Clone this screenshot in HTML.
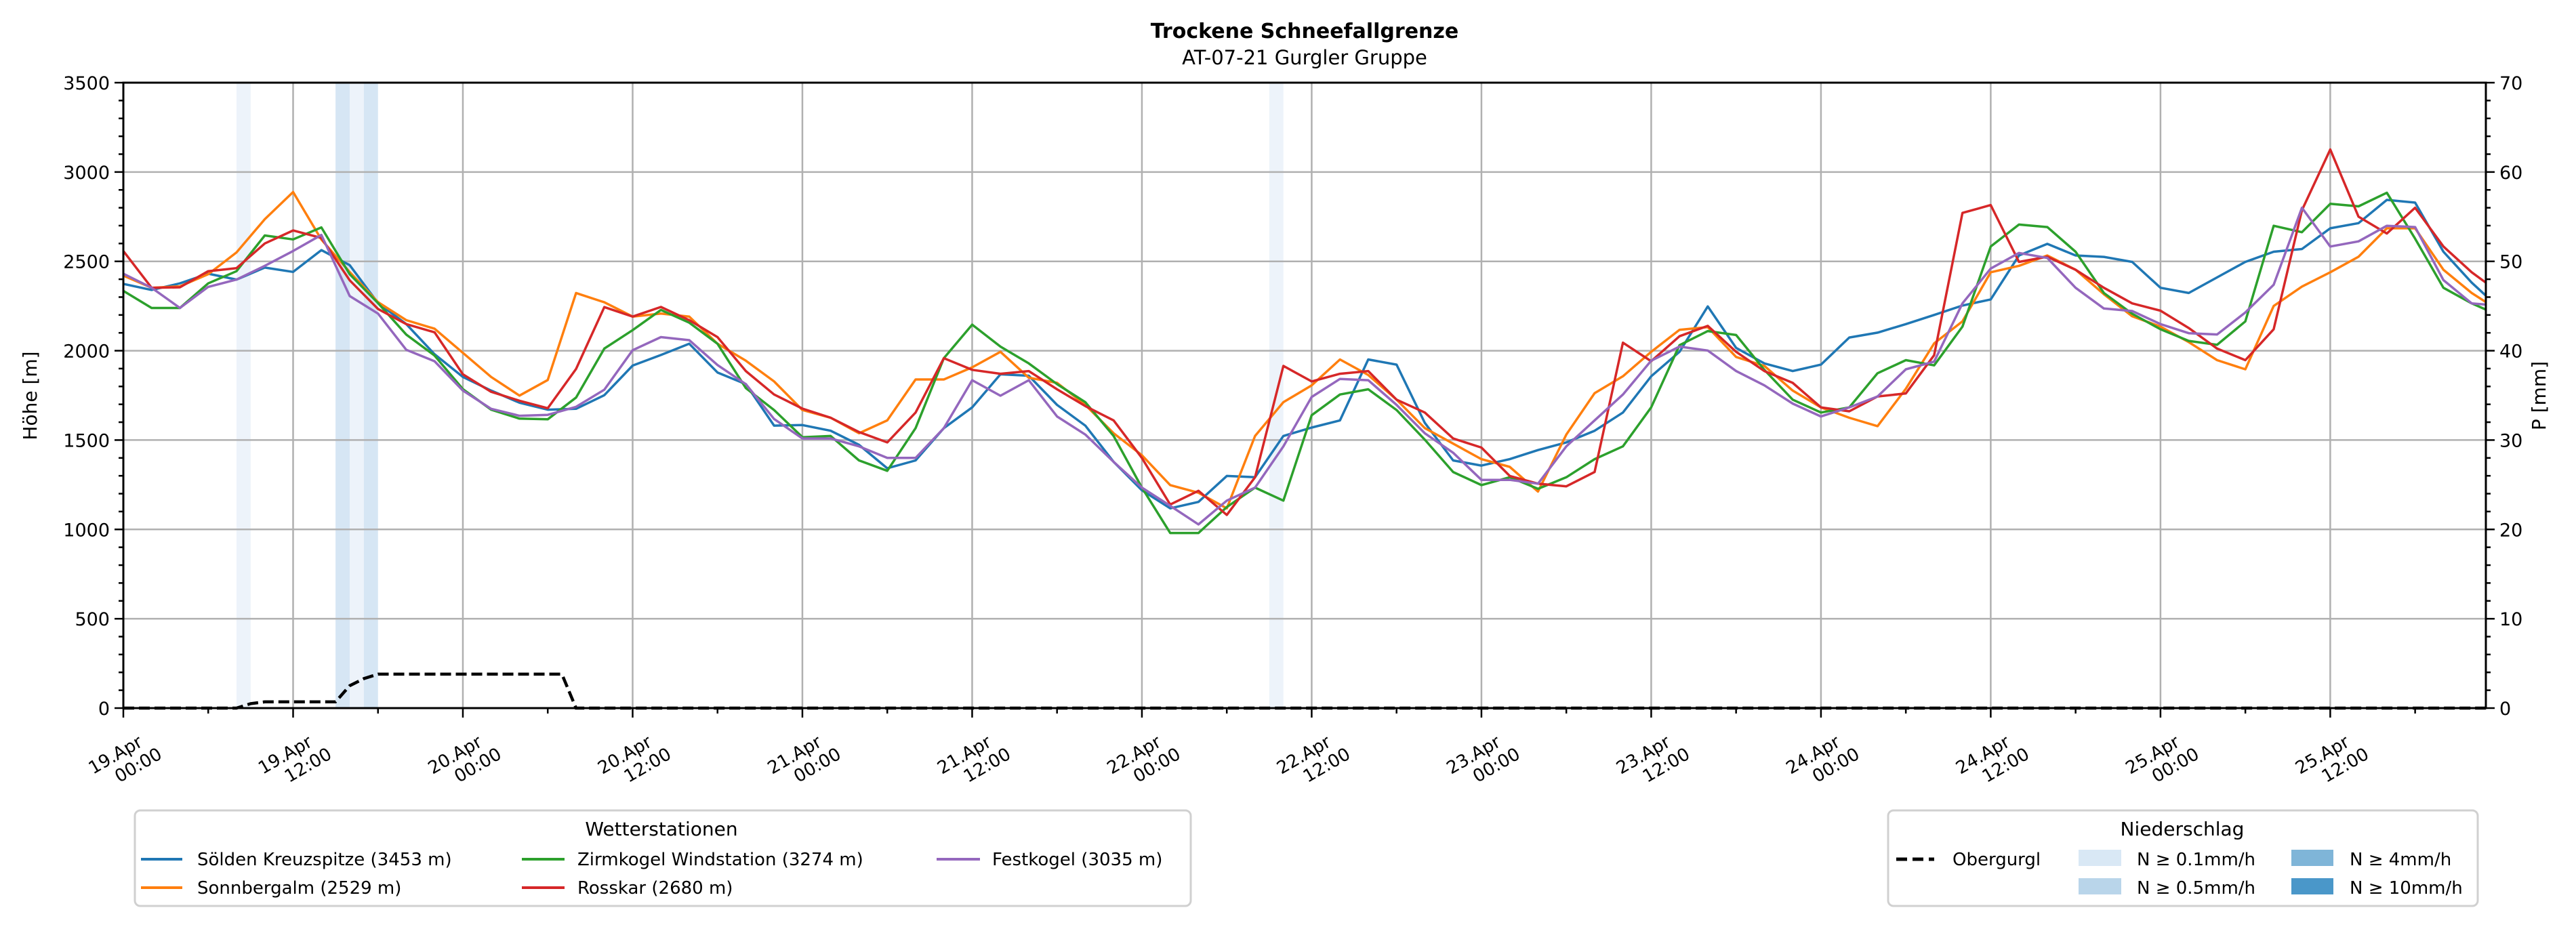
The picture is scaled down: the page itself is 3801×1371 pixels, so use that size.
<!DOCTYPE html>
<html><head><meta charset="utf-8">
<style>
html,body{margin:0;padding:0;background:#fff;}
svg{display:block;font-family:"DejaVu Sans","Liberation Sans",sans-serif;}
</style></head>
<body>
<svg id="chart" xmlns="http://www.w3.org/2000/svg" width="3801" height="1371" viewBox="0 0 3801 1371">
<rect x="0" y="0" width="3801" height="1371" fill="#fff"/>
<text x="1925" y="56" text-anchor="middle" font-size="30" font-weight="bold">Trockene Schneefallgrenze</text>
<text x="1925" y="95" text-anchor="middle" font-size="29">AT-07-21 Gurgler Gruppe</text>
<g id="bands"></g>
<g id="grid"></g>
<g id="series"></g>
<g id="axes"></g>
<text transform="translate(54,584) rotate(-90)" text-anchor="middle" font-size="28">Höhe [m]</text>
<text transform="translate(3756,584) rotate(-90)" text-anchor="middle" font-size="28">P [mm]</text>

<g>
<rect x="199" y="1196" width="1558" height="141" rx="8" fill="#fff" stroke="#d0d0d0" stroke-width="3"/>
<text x="976" y="1233" text-anchor="middle" font-size="28">Wetterstationen</text>
<g><line x1="208" y1="1268" x2="269" y2="1268" stroke="#1f77b4" stroke-width="4"/><text x="291" y="1277" font-size="26">Sölden Kreuzspitze (3453 m)</text></g>
<g><line x1="208" y1="1310" x2="269" y2="1310" stroke="#ff7f0e" stroke-width="4"/><text x="291" y="1319" font-size="26">Sonnbergalm (2529 m)</text></g>
<g><line x1="770" y1="1268" x2="833" y2="1268" stroke="#2ca02c" stroke-width="4"/><text x="852" y="1277" font-size="26">Zirmkogel Windstation (3274 m)</text></g>
<g><line x1="770" y1="1310" x2="833" y2="1310" stroke="#d62728" stroke-width="4"/><text x="852" y="1319" font-size="26">Rosskar (2680 m)</text></g>
<g><line x1="1382" y1="1268" x2="1446" y2="1268" stroke="#9467bd" stroke-width="4"/><text x="1464" y="1277" font-size="26">Festkogel (3035 m)</text></g>
</g>

<g>
<rect x="2786" y="1196" width="870" height="141" rx="8" fill="#fff" stroke="#d0d0d0" stroke-width="3"/>
<text x="3220" y="1233" text-anchor="middle" font-size="28">Niederschlag</text>
<g><line x1="2798" y1="1268" x2="2854" y2="1268" stroke="#000" stroke-width="5" stroke-dasharray="16,8"/><text x="2881" y="1277" font-size="26">Obergurgl</text></g>
<g><rect x="3067" y="1254" width="63" height="24" fill="#d9e8f5"/><text x="3153" y="1277" font-size="26">N ≥ 0.1mm/h</text></g>
<g><rect x="3067" y="1296" width="63" height="24" fill="#b9d5ea"/><text x="3153" y="1319" font-size="26">N ≥ 0.5mm/h</text></g>
<g><rect x="3381" y="1254" width="62" height="24" fill="#7fb5d8"/><text x="3467" y="1277" font-size="26">N ≥ 4mm/h</text></g>
<g><rect x="3381" y="1296" width="62" height="24" fill="#4a97c9"/><text x="3467" y="1319" font-size="26">N ≥ 10mm/h</text></g>
</g>
</svg>
<script>
// ---- data ----
const hours = [0,2,4,6,8,10,12,14,16,18,20,22,24,26,28,30,32,34,36,38,40,42,44,46,48,50,52,54,56,58,60,62,64,66,68,70,72,74,76,78,80,82,84,86,88,90,92,94,96,98,100,102,104,106,108,110,112,114,116,118,120,122,124,126,128,130,132,134,136,138,140,142,144,146,148,150,152,154,156,158,160,162,164,166,167];
const soelden = [2374,2340,2377,2431,2398,2465,2441,2563,2479,2267,2149,1980,1853,1777,1709,1670,1675,1751,1917,1976,2039,1878,
1813,1581,1584,1552,1473,1342,1386,1567,1683,1868,1860,1697,1581,1378,1219,1118,1154,1299,1292,1523,
1570,1610,1951,1922,1596,1386,1357,1393,1444,1487,1552,1654,1857,1994,2248,2016,1929,1886,1922,2074,
2101,2149,2200,2253,2287,2533,2598,2533,2525,2497,2352,2323,2410,2497,2554,2569,2685,2714,2844,2829,2554,2381,2308];
const sonnbergalm = [2420,2352,2360,2428,2550,2736,2888,2622,2440,2272,2171,2123,1988,1853,1749,1836,2323,2271,2191,2208,2191,2039,
1944,1828,1668,1625,1538,1610,1839,1839,1907,1994,1849,1820,1697,1538,1415,1248,1205,1118,1523,1712,
1806,1951,1864,1726,1567,1480,1393,1350,1212,1531,1762,1857,1994,2117,2132,1965,1915,1777,1683,1625,
1578,1787,2041,2164,2439,2475,2533,2453,2316,2193,2135,2048,1947,1896,2250,2359,2439,2526,2685,2685,2453,2323,2272];
const zirmkogel = [2335,2239,2239,2377,2445,2645,2623,2690,2428,2267,2090,1973,1785,1670,1620,1616,1738,2012,2115,2228,2157,2039,
1791,1668,1516,1523,1386,1328,1567,1958,2146,2023,1929,1813,1712,1523,1234,980,980,1125,1234,1161,
1639,1755,1784,1668,1502,1321,1248,1292,1227,1292,1393,1465,1683,2031,2110,2088,1893,1726,1654,1683,
1874,1947,1918,2135,2583,2706,2692,2554,2323,2207,2120,2055,2033,2164,2699,2663,2822,2808,2884,2627,2352,2265,2230];
const rosskar = [2558,2352,2355,2445,2462,2600,2673,2631,2394,2234,2149,2103,1868,1770,1720,1678,1898,2244,2191,2245,2171,2076,
1886,1755,1676,1625,1545,1487,1654,1958,1893,1871,1886,1784,1690,1610,1400,1139,1216,1081,1292,1915,
1828,1871,1886,1726,1654,1509,1458,1299,1256,1241,1321,2045,1941,2081,2139,1994,1886,1820,1683,1661,
1744,1761,1975,2771,2815,2497,2526,2453,2352,2265,2224,2127,2012,1947,2120,2786,3126,2750,2656,2800,2583,2439,2381];
const festkogel = [2431,2352,2239,2357,2398,2475,2558,2648,2306,2208,2005,1941,1777,1675,1636,1641,1686,1782,2003,2076,2059,1920,
1813,1618,1509,1509,1465,1400,1400,1567,1835,1748,1835,1632,1531,1378,1234,1132,1028,1161,1234,1465,
1741,1842,1835,1697,1538,1429,1277,1277,1256,1465,1610,1755,1944,2023,2001,1886,1806,1704,1632,1683,
1744,1896,1939,2265,2460,2547,2519,2352,2236,2222,2149,2098,2091,2214,2369,2800,2583,2612,2699,2692,2395,2265,2258];
const precipHours = [0,8,9,10,15,16,17,18,31,32,167];
const precipValues = [0,0,0.5,0.7,0.7,2.5,3.3,3.8,3.8,0,0];
const bandStart = [8,15,16,17,81];
const bandLevel = [0,1,0,1,0];
const xTickLabels = ["19.Apr|00:00","19.Apr|12:00","20.Apr|00:00","20.Apr|12:00","21.Apr|00:00","21.Apr|12:00","22.Apr|00:00","22.Apr|12:00","23.Apr|00:00","23.Apr|12:00","24.Apr|00:00","24.Apr|12:00","25.Apr|00:00","25.Apr|12:00"];
const yTicks = [0,500,1000,1500,2000,2500,3000,3500];
const y2Ticks = [0,10,20,30,40,50,60,70];

// ---- scales ----
const X0=182, X1=3668, Y0=1045, Y1=122, HMAX=167;
const x = h => X0 + h/HMAX*(X1-X0);
const y = v => Y0 - v/3500*(Y0-Y1);
const y2 = p => Y0 - p/70*(Y0-Y1);
const NS="http://www.w3.org/2000/svg";
function mk(tag, attrs, parent){const e=document.createElementNS(NS,tag);for(const k in attrs)e.setAttribute(k,attrs[k]);parent.appendChild(e);return e;}

const gB=document.getElementById('bands'), gG=document.getElementById('grid'), gS=document.getElementById('series'), gA=document.getElementById('axes');
const bandColors=["#edf3fa","#d6e6f4"];
bandStart.forEach((b,i)=>{
  const r=mk('rect',{x:x(b),y:Y1,width:x(b+1)-x(b),height:Y0-Y1,fill:bandColors[bandLevel[i]]},gB);
  
  
});
xTickLabels.forEach((l,i)=>{
  const gx=x(i*12);
  const ln=mk('line',{x1:gx,y1:Y1,x2:gx,y2:Y0,stroke:"#b0b0b0","stroke-width":2.5},gG);
  
  
});
yTicks.forEach(v=>{
  const ln=mk('line',{x1:X0,y1:y(v),x2:X1,y2:y(v),stroke:"#b0b0b0","stroke-width":2.5},gG);
  
  
});
const series=[["soelden",soelden,"#1f77b4"],["sonnbergalm",sonnbergalm,"#ff7f0e"],["zirmkogel",zirmkogel,"#2ca02c"],["rosskar",rosskar,"#d62728"],["festkogel",festkogel,"#9467bd"]];
series.forEach(s=>{
  const pts=hours.map((h,i)=>x(h).toFixed(1)+","+y(s[1][i]).toFixed(1)).join(" ");
  const p=mk('polyline',{points:pts,fill:"none",stroke:s[2],"stroke-width":3.5,"stroke-linejoin":"round"},gS);
  
  
});
const ppts=precipHours.map((h,i)=>x(h).toFixed(1)+","+y2(precipValues[i]).toFixed(1)).join(" ");
const pl=mk('polyline',{points:ppts,fill:"none",stroke:"#000","stroke-width":4.5,"stroke-dasharray":"16,7"},gS);



const fr=mk('rect',{x:X0,y:Y1,width:X1-X0,height:Y0-Y1,fill:"none",stroke:"#000","stroke-width":3},gA);


for(let v=0;v<=3500;v+=100){
  const major=v%500===0;
  mk('line',{x1:X0,y1:y(v),x2:X0-(major?13:7),y2:y(v),stroke:"#000","stroke-width":2.5},gA);
}
yTicks.forEach(v=>{
  const t=mk('text',{x:X0-20,y:y(v)+10,"text-anchor":"end","font-size":27},gA);
  t.textContent=v;
  
  
});
for(let p=0;p<=70;p+=2){
  const major=p%10===0;
  mk('line',{x1:X1,y1:y2(p),x2:X1+(major?13:7),y2:y2(p),stroke:"#000","stroke-width":2.5},gA);
}
y2Ticks.forEach(p=>{
  const t=mk('text',{x:X1+20,y:y2(p)+10,"text-anchor":"start","font-size":27},gA);
  t.textContent=p;
  
  
});
for(let h=0;h<=HMAX;h+=6){
  const major=h%12===0;
  mk('line',{x1:x(h),y1:Y0,x2:x(h),y2:Y0+(major?14:8),stroke:"#000","stroke-width":2.5},gA);
}
xTickLabels.forEach((l,i)=>{
  const parts=l.split("|");
  const tx=x(i*12)+30, ty=1100;
  const t=mk('text',{transform:`translate(${tx},${ty}) rotate(-30)`,"text-anchor":"end","font-size":26},gA);
  
  
  const a=mk('tspan',{x:0,y:0},t); a.textContent=parts[0];
  const b=mk('tspan',{x:16,y:30},t); b.textContent=parts[1];
});
</script>
</body></html>
